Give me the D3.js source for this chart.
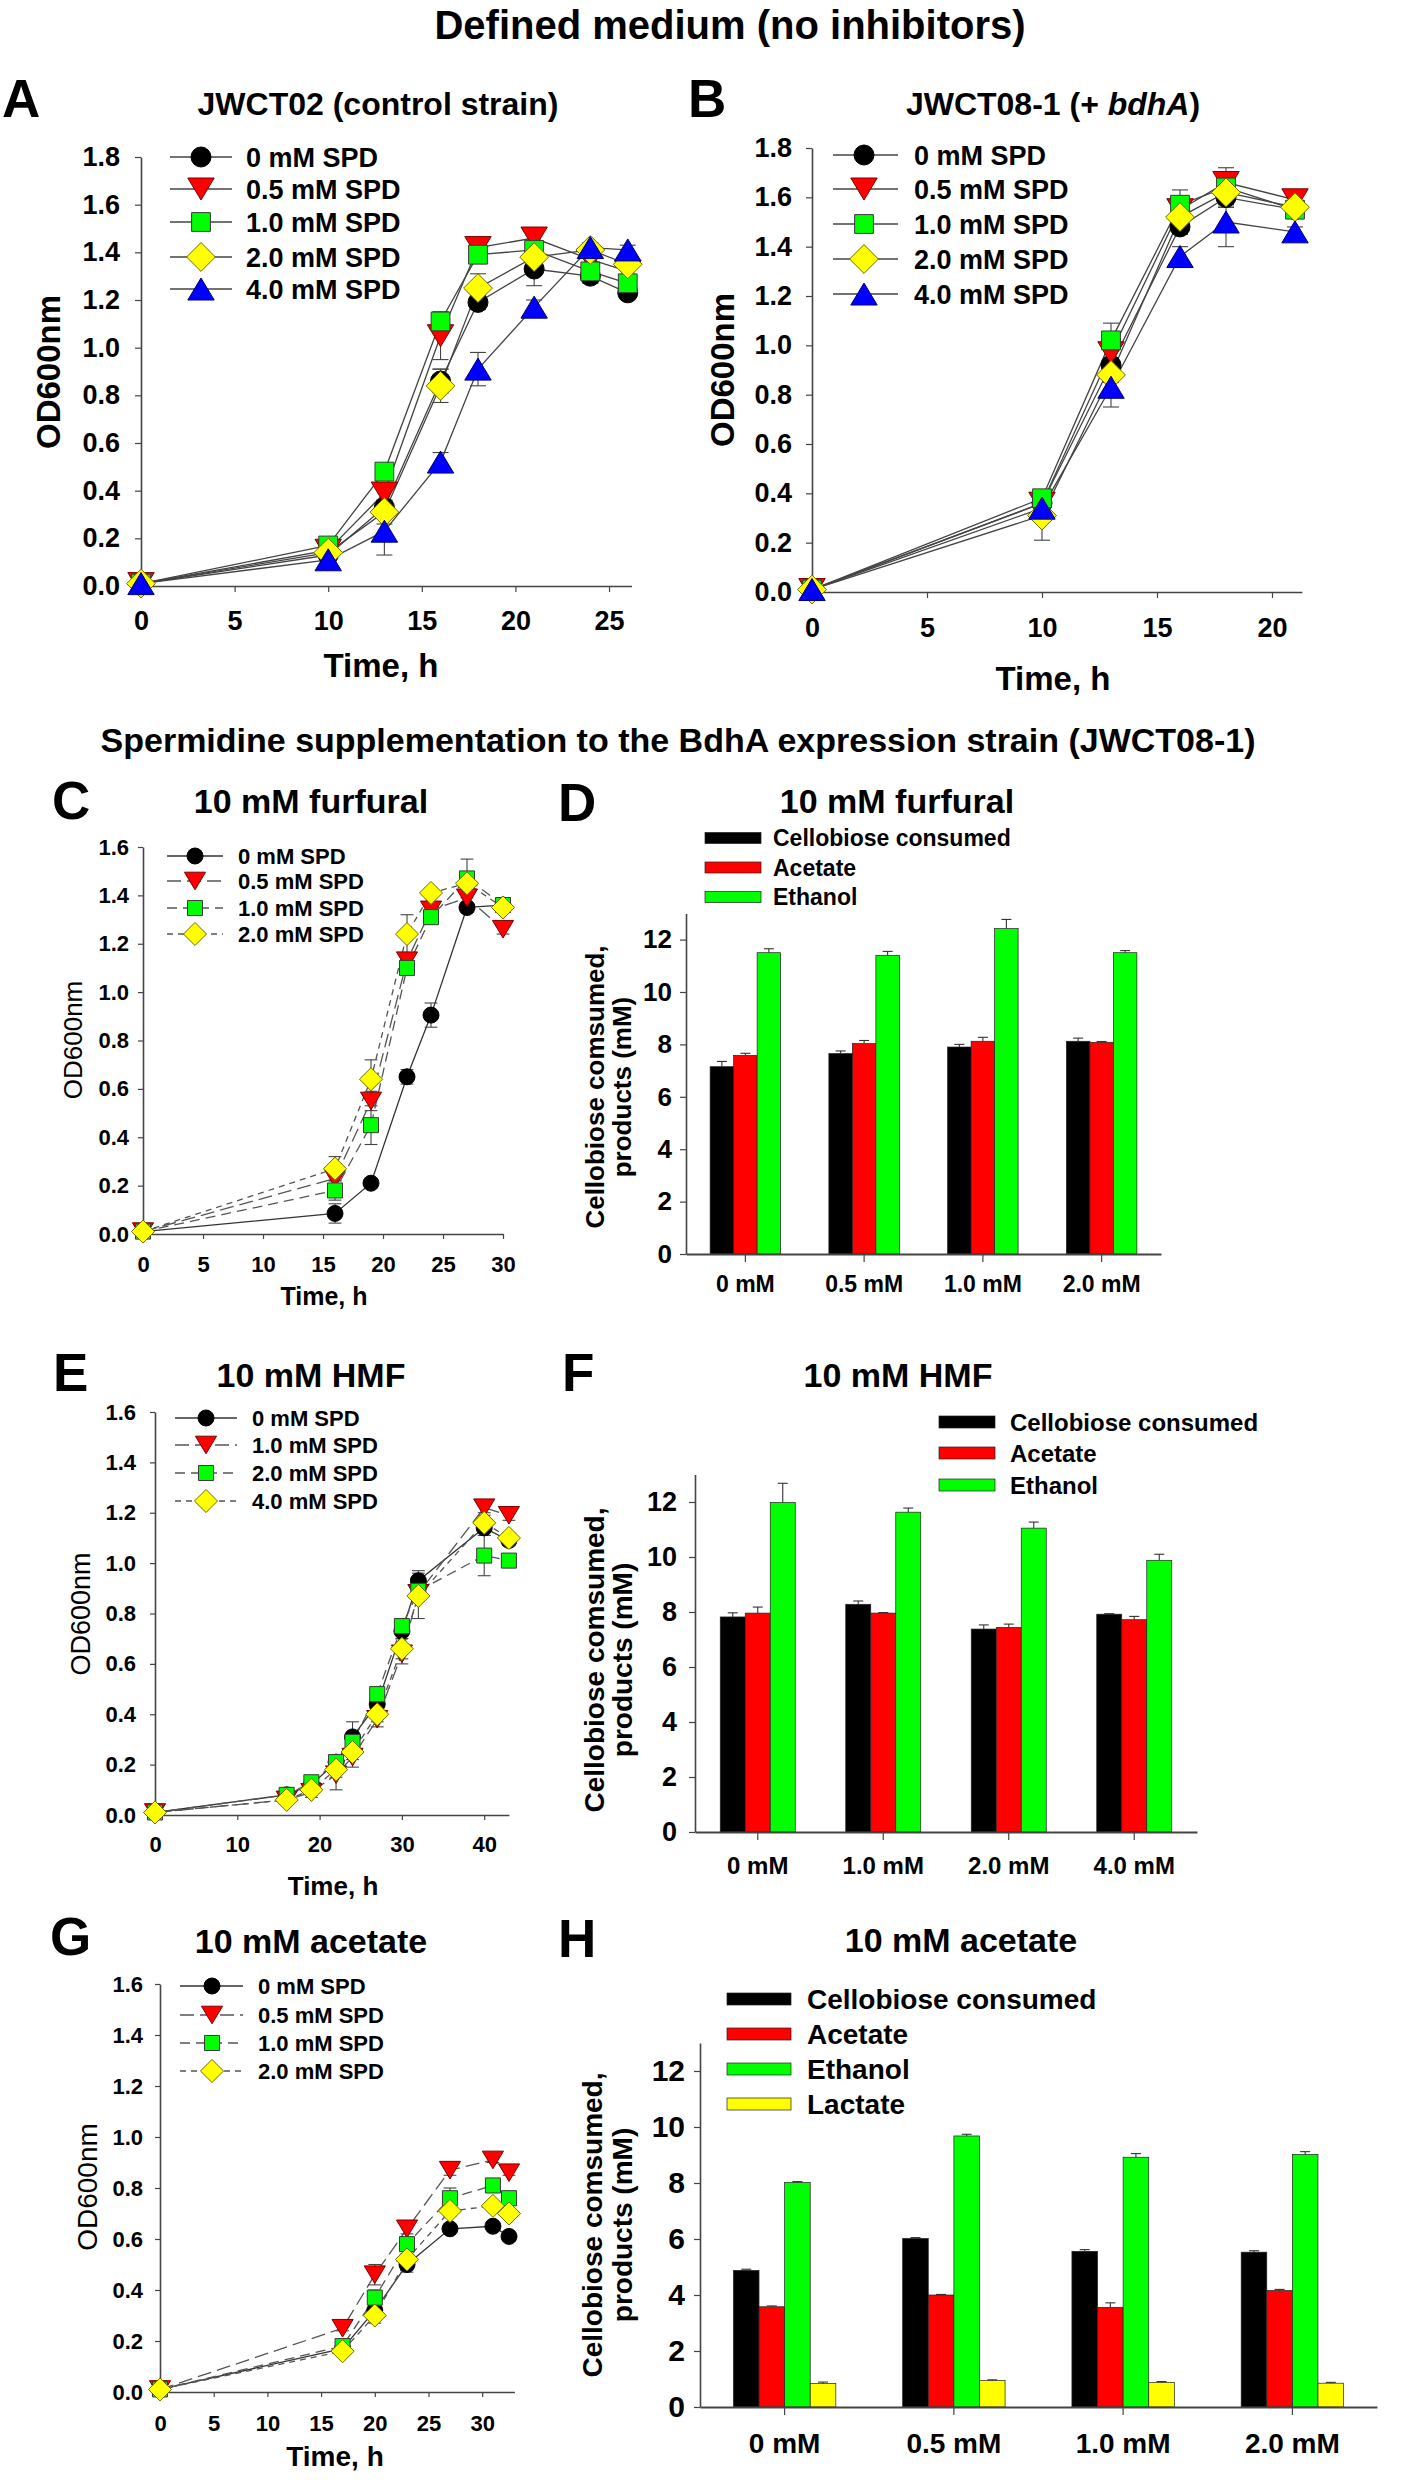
<!DOCTYPE html>
<html><head><meta charset="utf-8">
<script src="https://cdn.jsdelivr.net/npm/d3@7"></script>
<style>
html,body{margin:0;padding:0;background:#fff;}
svg text{font-family:"Liberation Sans",Arial,Helvetica,sans-serif;}
</style></head><body>
<svg id="fig" width="1406" height="2480"></svg>
<script>
// ---------------- DATA ----------------
const legendAB = ["0 mM SPD","0.5 mM SPD","1.0 mM SPD","2.0 mM SPD","4.0 mM SPD"];
const legendCG = ["0 mM SPD","0.5 mM SPD","1.0 mM SPD","2.0 mM SPD"];
const legendE  = ["0 mM SPD","1.0 mM SPD","2.0 mM SPD","4.0 mM SPD"];

// Panel A : JWCT02
const timeA   = [0, 10, 13, 16, 18, 21, 24, 26];
const odA_0   = [0.01, 0.13, 0.33, 0.86, 1.19, 1.33, 1.30, 1.23];
const odA_05  = [0.01, 0.15, 0.39, 1.05, 1.42, 1.46, 1.37, 1.32];
const odA_10  = [0.01, 0.17, 0.48, 1.11, 1.39, 1.41, 1.32, 1.27];
const odA_20  = [0.01, 0.14, 0.31, 0.84, 1.25, 1.38, 1.41, 1.35];
const odA_40  = [0.01, 0.11, 0.23, 0.52, 0.91, 1.17, 1.42, 1.41];
const errA_0  = [0, 0.01, 0.02, 0.05, 0.03, 0.07, 0.03, 0.02];
const errA_05 = [0, 0.01, 0.03, 0.10, 0.04, 0.02, 0.03, 0.03];
const errA_10 = [0, 0.01, 0.02, 0.04, 0.03, 0.03, 0.03, 0.02];
const errA_20 = [0, 0.01, 0.05, 0.07, 0.06, 0.04, 0.02, 0.02];
const errA_40 = [0, 0.01, 0.10, 0.04, 0.07, 0.03, 0.02, 0.02];

// Panel B : JWCT08-1
const timeB   = [0, 10, 13, 16, 18, 21];
const odB_0   = [0.01, 0.36, 0.92, 1.48, 1.60, 1.55];
const odB_05  = [0.01, 0.36, 0.97, 1.55, 1.66, 1.59];
const odB_10  = [0.01, 0.38, 1.02, 1.57, 1.64, 1.55];
const odB_20  = [0.01, 0.31, 0.88, 1.52, 1.62, 1.56];
const odB_40  = [0.01, 0.34, 0.83, 1.36, 1.50, 1.46];
const errB_0  = [0, 0.02, 0.03, 0.03, 0.04, 0.02];
const errB_05 = [0, 0.02, 0.04, 0.03, 0.03, 0.02];
const errB_10 = [0, 0.02, 0.07, 0.06, 0.08, 0.02];
const errB_20 = [0, 0.10, 0.03, 0.03, 0.05, 0.02];
const errB_40 = [0, 0.03, 0.08, 0.04, 0.10, 0.02];

// Panel C : 10 mM furfural
const timeC   = [0, 16, 19, 22, 24, 27, 30];
const odC_0   = [0.01, 0.085, 0.21, 0.65, 0.905, 1.35, 1.36];
const odC_05  = [0.01, 0.23, 0.55, 1.13, 1.34, 1.39, 1.26];
const odC_10  = [0.01, 0.18, 0.45, 1.10, 1.31, 1.47, 1.36];
const odC_20  = [0.01, 0.27, 0.64, 1.24, 1.41, 1.45, 1.35];
const errC_0  = [0, 0.04, 0.02, 0.03, 0.05, 0.02, 0.02];
const errC_05 = [0, 0.03, 0.04, 0.03, 0.02, 0.03, 0.02];
const errC_10 = [0, 0.04, 0.08, 0.03, 0.02, 0.08, 0.02];
const errC_20 = [0, 0.05, 0.08, 0.08, 0.02, 0.03, 0.02];

// Panel E : 10 mM HMF
const timeE   = [0, 16, 19, 22, 24, 27, 30, 32, 40, 43];
const odE_0   = [0.01, 0.08, 0.12, 0.21, 0.31, 0.44, 0.73, 0.93, 1.14, 1.09];
const odE_10  = [0.01, 0.06, 0.09, 0.16, 0.23, 0.38, 0.64, 0.88, 1.22, 1.19];
const odE_20  = [0.01, 0.08, 0.13, 0.21, 0.29, 0.48, 0.75, 0.89, 1.03, 1.01];
const odE_40  = [0.01, 0.06, 0.10, 0.18, 0.25, 0.40, 0.66, 0.87, 1.16, 1.10];
const errE_0  = [0, 0.01, 0.01, 0.02, 0.06, 0.02, 0.03, 0.04, 0.03, 0.02];
const errE_10 = [0, 0.01, 0.02, 0.06, 0.04, 0.03, 0.04, 0.03, 0.02, 0.02];
const errE_20 = [0, 0.01, 0.01, 0.02, 0.03, 0.02, 0.03, 0.02, 0.08, 0.02];
const errE_40 = [0, 0.01, 0.01, 0.03, 0.03, 0.03, 0.04, 0.09, 0.03, 0.02];

// Panel G : 10 mM acetate
const timeG   = [0, 17, 20, 23, 27, 31, 32.5];
const odG_0   = [0.01, 0.17, 0.32, 0.50, 0.64, 0.65, 0.61];
const odG_05  = [0.01, 0.25, 0.46, 0.64, 0.87, 0.91, 0.86];
const odG_10  = [0.01, 0.18, 0.37, 0.58, 0.76, 0.81, 0.76];
const odG_20  = [0.01, 0.16, 0.30, 0.52, 0.71, 0.73, 0.70];
const errG_0  = [0, 0.01, 0.02, 0.03, 0.01, 0.01, 0.01];
const errG_05 = [0, 0.01, 0.04, 0.02, 0.02, 0.01, 0.01];
const errG_10 = [0, 0.01, 0.03, 0.02, 0.04, 0.01, 0.01];
const errG_20 = [0, 0.01, 0.03, 0.04, 0.02, 0.01, 0.01];

// Bar panels
const barLegend3 = ["Cellobiose consumed","Acetate","Ethanol"];
const barLegend4 = ["Cellobiose consumed","Acetate","Ethanol","Lactate"];

const groupsD   = ["0 mM","0.5 mM","1.0 mM","2.0 mM"];
const celloD    = [7.15, 7.65, 7.90, 8.12];
const acetD     = [7.58, 8.03, 8.12, 8.08];
const ethD      = [11.50, 11.40, 12.42, 11.50];
const errCelloD = [0.20, 0.10, 0.10, 0.12];
const errAcetD  = [0.08, 0.12, 0.15, 0.03];
const errEthD   = [0.15, 0.15, 0.35, 0.08];

const groupsF   = ["0 mM","1.0 mM","2.0 mM","4.0 mM"];
const celloF    = [7.82, 8.28, 7.38, 7.92];
const acetF     = [7.96, 7.96, 7.44, 7.72];
const ethF      = [11.98, 11.63, 11.05, 9.88];
const errCelloF = [0.15, 0.12, 0.15, 0.02];
const errAcetF  = [0.22, 0.02, 0.12, 0.12];
const errEthF   = [0.70, 0.15, 0.22, 0.22];

const groupsH   = ["0 mM","0.5 mM","1.0 mM","2.0 mM"];
const celloH    = [4.88, 6.02, 5.56, 5.53];
const acetH     = [3.58, 4.00, 3.56, 4.16];
const ethH      = [8.02, 9.68, 8.92, 9.02];
const lactH     = [0.84, 0.95, 0.88, 0.85];
const errCelloH = [0.04, 0.03, 0.06, 0.05];
const errAcetH  = [0.03, 0.02, 0.16, 0.04];
const errEthH   = [0.03, 0.06, 0.13, 0.10];
const errLactH  = [0.05, 0.02, 0.03, 0.03];

// ---------------- STYLES ----------------
const markerStyles = [
  {shape:"circle",  fill:"#000000", stroke:"#000000"},
  {shape:"triDown", fill:"#ff0000", stroke:"#7a0000"},
  {shape:"square",  fill:"#00ff00", stroke:"#3a3a3a"},
  {shape:"diamond", fill:"#ffff00", stroke:"#6b6b00"},
  {shape:"triUp",   fill:"#0000ff", stroke:"#00006b"}
];
const dashCG = ["", "14,6", "10,6", "6,5"];
const barColors = ["#000000","#ff0000","#00ff00","#ffff00"];
const FONT = '"Liberation Sans",Arial,Helvetica,sans-serif';

const svg = d3.select("#fig");
svg.append("rect").attr("width",1406).attr("height",2480).attr("fill","#fff");

function markerPath(shape, s){
  if (shape === "circle") return d3.symbol(d3.symbolCircle, Math.PI*s*s/4)();
  if (shape === "square"){ const h=s*0.47; return `M${-h},${-h}H${h}V${h}H${-h}Z`; }
  if (shape === "diamond"){ const h=s*0.72; return `M0,${-h}L${h},0L0,${h}L${-h},0Z`; }
  const w=s*0.66, h=s*0.55;
  if (shape === "triUp") return `M0,${-h}L${w},${h}L${-w},${h}Z`;
  return `M0,${h}L${w},${-h}L${-w},${-h}Z`;
}

function txt(x, y, s, fs, opts={}){
  const t = svg.append("text").attr("x",x).attr("y",y).attr("font-size",fs)
    .attr("font-weight", opts.weight||"bold").attr("fill","#000")
    .attr("text-anchor", opts.anchor||"start").text(s);
  if (opts.rotate) t.attr("x",0).attr("y",0).attr("transform",`translate(${x},${y}) rotate(-90)`);
  return t;
}

function styleAxis(g, o){
  g.select(".domain").attr("stroke","#444").attr("stroke-width",1.6);
  g.selectAll(".tick line").attr("stroke","#444").attr("stroke-width",1.2);
  g.selectAll(".tick text").attr("font-size",o.fs).attr("font-weight","bold")
    .attr("font-family",FONT).attr("fill","#000");
}

function linePanel(o){
  const g = svg.append("g");
  const x = d3.scaleLinear().domain(o.xDomain).range(o.xRange);
  const y = d3.scaleLinear().domain(o.yDomain).range(o.yRange);
  const ya = d3.axisLeft(y).tickValues(o.yTicks).tickFormat(d3.format(".1f"))
    .tickSize(o.tickSize).tickSizeOuter(0).tickPadding(o.yPad);
  const xa = d3.axisBottom(x).tickValues(o.xTicks).tickFormat(d3.format("d"))
    .tickSize(o.tickSize).tickSizeOuter(0).tickPadding(o.xPad);
  const gy = g.append("g").attr("transform",`translate(${o.xRange[0]},0)`).call(ya);
  styleAxis(gy, {fs:o.tickFs});
  const gx = g.append("g").attr("transform",`translate(0,${o.yRange[0]})`).call(xa);
  styleAxis(gx, {fs:o.tickFs});

  const line = d3.line().x(d=>x(d[0])).y(d=>y(d[1]));
  o.series.forEach((vals,i)=>{
    const pts = o.times.map((t,j)=>[t, vals[j]]);
    g.append("path").attr("d", line(pts)).attr("fill","none")
      .attr("stroke", o.dashed ? (i===0?"#333":"#555") : "#444")
      .attr("stroke-width", 1.3)
      .attr("stroke-dasharray", o.dashed ? dashCG[i] : null);
  });
  const cap = o.msize*0.4;
  o.series.forEach((vals,i)=>{
    o.times.forEach((t,j)=>{
      const e = o.errs[i][j]; if (!e) return;
      const cx = x(t), y1 = y(vals[j]-e), y2 = y(vals[j]+e);
      g.append("line").attr("x1",cx).attr("x2",cx).attr("y1",y1).attr("y2",y2).attr("stroke","#444").attr("stroke-width",1.1);
      [y1,y2].forEach(yy=>g.append("line").attr("x1",cx-cap).attr("x2",cx+cap).attr("y1",yy).attr("y2",yy).attr("stroke","#444").attr("stroke-width",1.1));
    });
  });
  o.series.forEach((vals,i)=>{
    const st = markerStyles[i];
    o.times.forEach((t,j)=>{
      g.append("path").attr("d", markerPath(st.shape, o.msize))
        .attr("transform",`translate(${x(t)},${y(vals[j])})`)
        .attr("fill", st.fill).attr("stroke", st.stroke).attr("stroke-width",1);
    });
  });
  // legend
  const L = o.legend;
  o.labels.forEach((lab,i)=>{
    const yy = L.rows[i];
    g.append("line").attr("x1",L.l0).attr("x2",L.l1).attr("y1",yy).attr("y2",yy)
      .attr("stroke", o.dashed ? (i===0?"#333":"#555") : "#444").attr("stroke-width",1.3)
      .attr("stroke-dasharray", o.dashed ? dashCG[i] : null);
    const st = markerStyles[i];
    g.append("path").attr("d", markerPath(st.shape, o.msize)).attr("transform",`translate(${L.sym},${yy})`)
      .attr("fill", st.fill).attr("stroke", st.stroke).attr("stroke-width",1);
    txt(L.tx, yy, lab, L.fs).attr("dy","0.36em");
  });
  txt(o.xTitle.x, o.xTitle.y, "Time, h", o.xTitle.fs, {anchor:"middle"});
  txt(o.yTitle.x, o.yTitle.y, "OD600nm", o.yTitle.fs, {anchor:"middle", rotate:true, weight:o.yTitle.weight||"bold"});
}

function barPanel(o){
  const g = svg.append("g");
  const xb = d3.scaleBand().domain(o.groups).range(o.xRange).padding(0);
  const n = o.series.length;
  const xi = d3.scaleBand().domain(d3.range(n)).range([-n*o.barW/2, n*o.barW/2]).padding(0);
  const y = d3.scaleLinear().domain([0,13]).range(o.yRange);
  const ya = d3.axisLeft(y).tickValues([0,2,4,6,8,10,12]).tickFormat(d3.format("d"))
    .tickSize(6).tickSizeOuter(0).tickPadding(o.yPad);
  const xa = d3.axisBottom(xb).tickSize(8).tickSizeOuter(0).tickPadding(o.xPad);
  o.series.forEach((vals,i)=>{
    o.groups.forEach((gname,j)=>{
      const cx = xb(gname) + xb.bandwidth()/2;
      g.append("rect").attr("x", cx + xi(i)).attr("width", xi.bandwidth())
        .attr("y", y(vals[j])).attr("height", y(0)-y(vals[j]))
        .attr("fill", barColors[i]).attr("stroke","#222").attr("stroke-width",0.7);
      const e = o.errs[i][j];
      const bx = cx + xi(i) + xi.bandwidth()/2;
      g.append("line").attr("x1",bx).attr("x2",bx).attr("y1",y(vals[j])).attr("y2",y(vals[j]+e)).attr("stroke","#333").attr("stroke-width",1.1);
      g.append("line").attr("x1",bx-5).attr("x2",bx+5).attr("y1",y(vals[j]+e)).attr("y2",y(vals[j]+e)).attr("stroke","#333").attr("stroke-width",1.1);
    });
  });
  const gy = g.append("g").attr("transform",`translate(${o.xRange[0]},0)`).call(ya);
  styleAxis(gy, {fs:o.yFs});
  const gx = g.append("g").attr("transform",`translate(0,${o.yRange[0]})`).call(xa);
  styleAxis(gx, {fs:o.xFs});
  gx.select(".domain").attr("stroke-width",2.2);
  const L = o.legend;
  o.labels.forEach((lab,i)=>{
    const yy = L.rows[i];
    g.append("rect").attr("x",L.s0).attr("y",yy-L.sh/2).attr("width",L.s1-L.s0).attr("height",L.sh)
      .attr("fill",barColors[i]).attr("stroke","#222").attr("stroke-width",0.7);
    txt(L.tx, yy, lab, L.fs).attr("dy","0.36em");
  });
  const T = o.yTitle;
  txt(T.x1, T.y, "Cellobiose comsumed,", T.fs, {anchor:"middle", rotate:true});
  txt(T.x2, T.y, "products (mM)", T.fs, {anchor:"middle", rotate:true});
}

// ---------------- TITLES ----------------
txt(730, 39, "Defined medium (no inhibitors)", 40, {anchor:"middle"});
txt(678, 752, "Spermidine supplementation to the BdhA expression strain (JWCT08-1)", 34, {anchor:"middle"});

[["A",2,117],["B",688,117],["C",52,819],["D",558,821],["E",53,1391],["F",562,1391],["G",50,1955],["H",558,1957]]
  .forEach(d=>txt(d[1], d[2], d[0], 53));

txt(378, 115, "JWCT02 (control strain)", 32, {anchor:"middle"});
const tB = txt(1053, 115, "JWCT08-1 (+ ", 32, {anchor:"middle"});
tB.append("tspan").attr("font-style","italic").text("bdhA");
tB.append("tspan").text(")");
txt(311, 813, "10 mM furfural", 34, {anchor:"middle"});
txt(897, 813, "10 mM furfural", 34, {anchor:"middle"});
txt(311, 1387, "10 mM HMF", 34, {anchor:"middle"});
txt(898, 1387, "10 mM HMF", 34, {anchor:"middle"});
txt(311, 1953, "10 mM acetate", 34, {anchor:"middle"});
txt(961, 1952, "10 mM acetate", 34, {anchor:"middle"});

// ---------------- PANELS ----------------
linePanel({
  times:timeA, series:[odA_0,odA_05,odA_10,odA_20,odA_40], errs:[errA_0,errA_05,errA_10,errA_20,errA_40],
  labels:legendAB, xDomain:[0,26.2], xRange:[141,631.5], yDomain:[0,1.8], yRange:[586,157],
  xTicks:[0,5,10,15,20,25], yTicks:[0,0.2,0.4,0.6,0.8,1.0,1.2,1.4,1.6,1.8],
  tickFs:27, tickSize:6, yPad:15, xPad:19,
  xTitle:{x:381,y:677,fs:33}, yTitle:{x:60,y:372,fs:33},
  legend:{rows:[157,189,222,257,289], l0:170, l1:232, sym:201, tx:246, fs:27},
  msize:20, dashed:false
});
linePanel({
  times:timeB, series:[odB_0,odB_05,odB_10,odB_20,odB_40], errs:[errB_0,errB_05,errB_10,errB_20,errB_40],
  labels:legendAB, xDomain:[0,21.3], xRange:[812,1301.9], yDomain:[0,1.8], yRange:[592,148],
  xTicks:[0,5,10,15,20], yTicks:[0,0.2,0.4,0.6,0.8,1.0,1.2,1.4,1.6,1.8],
  tickFs:27, tickSize:6, yPad:14, xPad:20,
  xTitle:{x:1053,y:690,fs:33}, yTitle:{x:734,y:370,fs:33},
  legend:{rows:[155,189,224,259,294], l0:833, l1:898, sym:864, tx:914, fs:27},
  msize:20, dashed:false
});
linePanel({
  times:timeC, series:[odC_0,odC_05,odC_10,odC_20], errs:[errC_0,errC_05,errC_10,errC_20],
  labels:legendCG, xDomain:[0,30], xRange:[143,503], yDomain:[0,1.6], yRange:[1234,847],
  xTicks:[0,5,10,15,20,25,30], yTicks:[0,0.2,0.4,0.6,0.8,1.0,1.2,1.4,1.6],
  tickFs:22, tickSize:5, yPad:9, xPad:17,
  xTitle:{x:324,y:1305,fs:25}, yTitle:{x:82,y:1040,fs:26,weight:"normal"},
  legend:{rows:[856,881,908,934], l0:167, l1:223, sym:195, tx:238, fs:22},
  msize:16, dashed:true
});
linePanel({
  times:timeE, series:[odE_0,odE_10,odE_20,odE_40], errs:[errE_0,errE_10,errE_20,errE_40],
  labels:legendE, xDomain:[0,43], xRange:[155,508.9], yDomain:[0,1.6], yRange:[1815,1412],
  xTicks:[0,10,20,30,40], yTicks:[0,0.2,0.4,0.6,0.8,1.0,1.2,1.4,1.6],
  tickFs:22, tickSize:5, yPad:14, xPad:16,
  xTitle:{x:333,y:1895,fs:26}, yTitle:{x:90,y:1614,fs:27,weight:"normal"},
  legend:{rows:[1418,1445,1473,1501], l0:175, l1:237, sym:206, tx:252, fs:22},
  msize:16, dashed:true
});
linePanel({
  times:timeG, series:[odG_0,odG_05,odG_10,odG_20], errs:[errG_0,errG_05,errG_10,errG_20],
  labels:legendCG, xDomain:[0,33], xRange:[160,514.4], yDomain:[0,1.6], yRange:[2392,1984],
  xTicks:[0,5,10,15,20,25,30], yTicks:[0,0.2,0.4,0.6,0.8,1.0,1.2,1.4,1.6],
  tickFs:22, tickSize:5, yPad:12, xPad:18,
  xTitle:{x:335,y:2466,fs:28}, yTitle:{x:97,y:2187,fs:28,weight:"normal"},
  legend:{rows:[1986,2015,2043,2071], l0:180, l1:243, sym:212, tx:258, fs:22},
  msize:16, dashed:true
});

barPanel({
  groups:groupsD, series:[celloD,acetD,ethD], errs:[errCelloD,errAcetD,errEthD], labels:barLegend3,
  xRange:[686,1161], yRange:[1254,913.4], barW:23.5, yFs:26, xFs:23, yPad:8, xPad:14,
  yTitle:{x1:604, x2:631, y:1087, fs:26},
  legend:{rows:[838,867.5,897], s0:705, s1:761, sh:11, tx:773, fs:23}
});
barPanel({
  groups:groupsF, series:[celloF,acetF,ethF], errs:[errCelloF,errAcetF,errEthF], labels:barLegend3,
  xRange:[695,1197], yRange:[1832,1474.5], barW:25, yFs:27, xFs:24, yPad:12, xPad:17,
  yTitle:{x1:604, x2:632, y:1660, fs:28},
  legend:{rows:[1422,1453,1485], s0:939, s1:995, sh:12, tx:1010, fs:24}
});
barPanel({
  groups:groupsH, series:[celloH,acetH,ethH,lactH], errs:[errCelloH,errAcetH,errEthH,errLactH], labels:barLegend4,
  xRange:[700,1377], yRange:[2407,2043], barW:25.6, yFs:30, xFs:28, yPad:9, xPad:18,
  yTitle:{x1:602, x2:632, y:2225, fs:28},
  legend:{rows:[1999,2034,2069,2104], s0:727, s1:791, sh:12, tx:807, fs:28}
});
</script></body></html>
